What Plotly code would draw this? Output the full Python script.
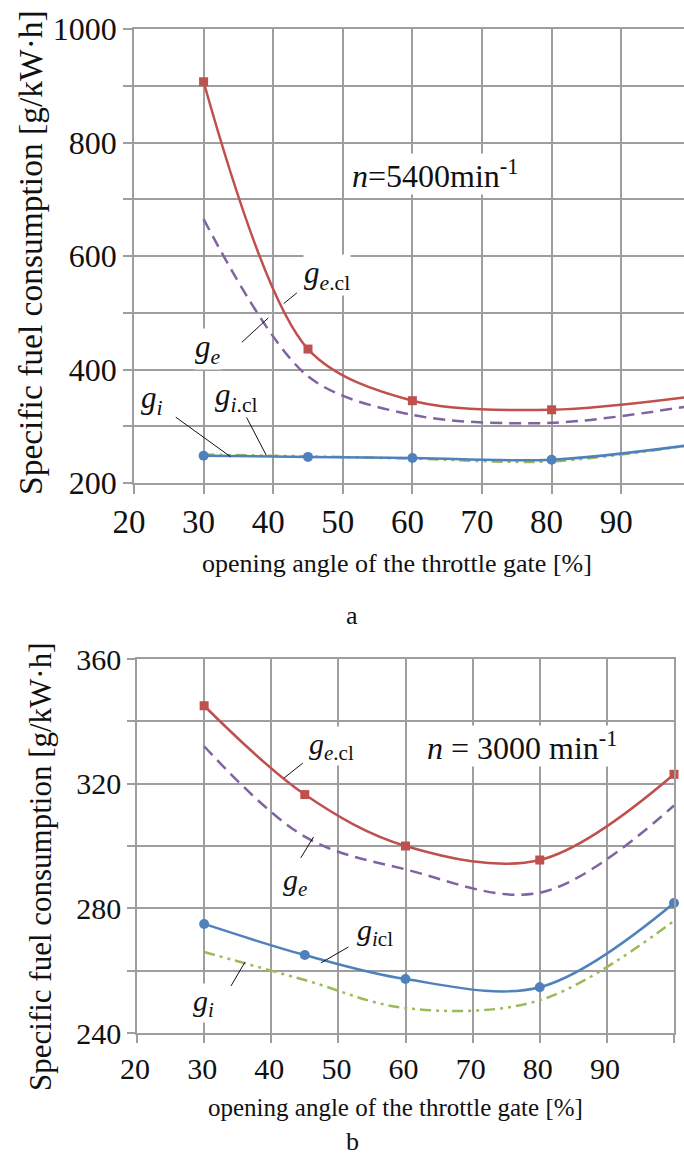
import plotly.graph_objects as go

# ---------------- data ----------------
throttle = [30, 45, 60, 80, 100]

# (a) n = 5400 min^-1
a_ge_cl = [907, 436, 345, 329, 352]
a_ge = [665, 388, 320, 306, 336]
a_gi_cl = [248, 246, 244, 241, 267]
a_gi = [250, 247, 243, 238, 267]

# (b) n = 3000 min^-1
b_ge_cl = [345, 316.5, 300, 295.5, 323]
b_ge = [332, 303, 292.5, 285, 313]
b_gi_cl = [275, 265, 257.3, 254.7, 281.7]
b_gi = [266, 257, 248, 250.5, 276]

a_yticks = [200, 400, 600, 800, 1000]
a_ylabels = ["200", "400", "600", "800", "1000"]
b_yticks = [240, 280, 320, 360]
b_ylabels = ["240", "280", "320", "360"]
x_ticks = [20, 30, 40, 50, 60, 70, 80, 90, 100]
x_labels = ["20", "30", "40", "50", "60", "70", "80", "90", "100"]

ytitle = "Specific fuel consumption [g/kW·h]"
xtitle = "opening angle of the throttle gate [%]"

RED = "#C0504D"
PURPLE = "#8064A2"
BLUE = "#4F81BD"
GREEN = "#9BBB59"
GRID = "#9E9E9E"
FONT = "'Liberation Serif', 'Times New Roman', Tinos, 'DejaVu Serif', serif"
TXT = "#111111"

W, H = 684, 1158

fig = go.Figure()


def add_set(xa, ya, ge_cl, ge, gi_cl, gi, clip, sm):
    fig.add_trace(go.Scatter(x=throttle, y=ge, mode="lines", xaxis=xa, yaxis=ya,
                             line=dict(color=PURPLE, width=2.5, dash="12px,7px",
                                       shape="spline", smoothing=sm),
                             cliponaxis=clip, showlegend=False, name="g_e"))
    fig.add_trace(go.Scatter(x=throttle, y=gi, mode="lines", xaxis=xa, yaxis=ya,
                             line=dict(color=GREEN, width=2.5, dash="11px,5px,3px,5px,3px,5px",
                                       shape="spline", smoothing=sm),
                             cliponaxis=clip, showlegend=False, name="g_i"))
    fig.add_trace(go.Scatter(x=throttle, y=ge_cl, mode="lines+markers", xaxis=xa, yaxis=ya,
                             line=dict(color=RED, width=2.5, shape="spline", smoothing=sm),
                             marker=dict(symbol="square", size=9, color=RED),
                             cliponaxis=clip, showlegend=False, name="g_e.cl"))
    fig.add_trace(go.Scatter(x=throttle, y=gi_cl, mode="lines+markers", xaxis=xa, yaxis=ya,
                             line=dict(color=BLUE, width=2.5, shape="spline", smoothing=sm),
                             marker=dict(symbol="circle", size=10, color=BLUE),
                             cliponaxis=clip, showlegend=False, name="g_i.cl"))


add_set("x", "y", a_ge_cl, a_ge, a_gi_cl, a_gi, True, 0.9)
add_set("x2", "y2", b_ge_cl, b_ge, b_gi_cl, b_gi, False, 1.0)

axis_common = dict(showgrid=True, gridcolor=GRID, gridwidth=1.6, showline=True,
                   linecolor=GRID, linewidth=1.6, ticks="outside", tickcolor=GRID,
                   tickwidth=1.6, zeroline=False, automargin=False)

fig.update_layout(
    width=W, height=H,
    margin=dict(l=0, r=0, t=0, b=0, autoexpand=False),
    paper_bgcolor="white", plot_bgcolor="white",
    font=dict(family=FONT, color=TXT),
    xaxis=dict(domain=[134 / W, 1.0], range=[20, 20 + 550 / 6.96], tickvals=x_ticks,
               ticktext=x_labels,
               ticklen=9, ticklabelstandoff=0, ticklabelshift=-5, mirror=True,
               tickfont=dict(size=33, family=FONT, color=TXT),
               anchor="y", **axis_common),
    yaxis=dict(domain=[1 - 483 / H, 1 - 29 / H], range=[200, 1000], tickvals=a_yticks,
               ticktext=a_ylabels, ticklen=9, ticklabelstandoff=0,
               minor=dict(dtick=100, tick0=0, showgrid=True, gridcolor=GRID, gridwidth=1.6,
                          ticks="outside", ticklen=9, tickcolor=GRID, tickwidth=1.6),
               tickfont=dict(size=32, family=FONT, color=TXT),
               anchor="x", **axis_common),
    xaxis2=dict(domain=[137 / W, 674 / W], range=[20, 100], tickvals=x_ticks[:-1],
                ticktext=x_labels[:-1],
                minor=dict(tickvals=[100], showgrid=True, gridcolor=GRID, gridwidth=1.6,
                           ticks="outside", ticklen=8, tickcolor=GRID, tickwidth=1.6),
                ticklen=8, ticklabelstandoff=0, ticklabelshift=-2, mirror=True,
                tickfont=dict(size=30, family=FONT, color=TXT),
                anchor="y2", **axis_common),
    yaxis2=dict(domain=[1 - 1033 / H, 1 - 659 / H], range=[240, 360], tickvals=b_yticks,
                ticktext=b_ylabels, ticklen=8, ticklabelstandoff=0, mirror=True,
                minor=dict(dtick=20, tick0=0, showgrid=True, gridcolor=GRID, gridwidth=1.6,
                           ticks="outside", ticklen=8, tickcolor=GRID, tickwidth=1.6),
                tickfont=dict(size=30, family=FONT, color=TXT),
                anchor="x2", **axis_common),
)


def px_x(px):
    return px / W


def px_y(py):
    return 1 - py / H


annotations = [
    # axis titles
    dict(text=ytitle, x=px_x(30), y=px_y(253), textangle=-90, font=dict(size=33.5)),
    dict(text=xtitle, x=px_x(397), y=px_y(563), font=dict(size=26)),
    dict(text="a", x=px_x(352), y=px_y(615), font=dict(size=26)),
    dict(text=ytitle, x=px_x(40), y=px_y(867), textangle=-90, font=dict(size=31)),
    dict(text=xtitle, x=px_x(395), y=px_y(1107), font=dict(size=25)),
    dict(text="b", x=px_x(352), y=px_y(1141), font=dict(size=26)),
]
for a in annotations:
    a.update(xref="paper", yref="paper", showarrow=False, xanchor="center", yanchor="middle")
    a["font"] = dict(size=a["font"]["size"], family=FONT, color=TXT)
    fig.add_annotation(**a)

# curve labels (data coordinates), with white background
labels = [
    ("x", "y", 51.2, 745, "<i>n</i>=5400min<sup>-1</sup>", 32),
    ("x", "y", 44.3, 567, "<i>g</i><sub><i>e</i>.cl</sub>", 31),
    ("x", "y", 28.6, 436, "<i>g</i><sub><i>e</i></sub>", 31),
    ("x", "y", 20.9, 346, "<i>g</i><sub><i>i</i></sub>", 31),
    ("x", "y", 31.5, 352, "<i>g</i><sub><i>i</i>.cl</sub>", 31),
    ("x2", "y2", 63.0, 332, "<i>n</i> = 3000 min<sup>-1</sup>", 32),
    ("x2", "y2", 45.4, 332, "<i>g</i><sub><i>e</i>.cl</sub>", 30),
    ("x2", "y2", 41.6, 288.5, "<i>g</i><sub><i>e</i></sub>", 30),
    ("x2", "y2", 52.6, 272.4, "<i>g</i><sub><i>i</i>cl</sub>", 30),
    ("x2", "y2", 28.2, 249.6, "<i>g</i><sub><i>i</i></sub>", 30),
]
for xr, yr, x, y, t, s in labels:
    fig.add_annotation(xref=xr, yref=yr, x=x, y=y, text=t, showarrow=False,
                       xanchor="left", yanchor="middle", bgcolor="white", borderpad=0,
                       font=dict(size=s, family=FONT, color=TXT))

# leader lines
leaders = [
    ("x", "y", 43.4, 535, 41.5, 516),
    ("x", "y", 35.5, 448, 39.3, 491),
    ("x", "y", 26.0, 316, 33.9, 246),
    ("x", "y", 35.9, 322, 39.0, 249),
    ("x2", "y2", 44.7, 326.6, 41.9, 321.8),
    ("x2", "y2", 44.4, 296.2, 46.3, 302.9),
    ("x2", "y2", 51.5, 267.6, 47.4, 262.5),
    ("x2", "y2", 34.0, 255.1, 36.1, 262.8),
]
for xr, yr, x0, y0, x1, y1 in leaders:
    fig.add_shape(type="line", xref=xr, yref=yr, x0=x0, y0=y0, x1=x1, y1=y1,
                  line=dict(color=TXT, width=1))

fig.write_html("out.html", config={"displayModeBar": False},
               post_script="document.body.style.margin='0';document.body.style.overflow='hidden';")
